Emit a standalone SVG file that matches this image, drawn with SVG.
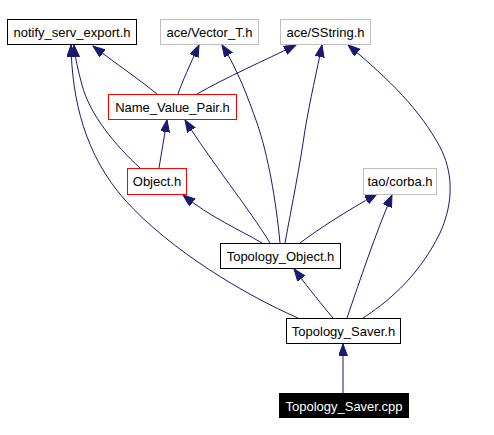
<svg xmlns="http://www.w3.org/2000/svg" width="494" height="435" viewBox="0 0 494 435">
<style>
.n rect{fill:#fff;stroke-width:1}
.b rect{stroke:#000}
.g rect{stroke:#bfbfbf}
.r rect{stroke:#ff0000}
.k rect{fill:#000;stroke:#000}
text{font-family:"Liberation Sans",Arial,sans-serif;font-size:13px;text-anchor:middle;fill:#000}
.k text{fill:#fff}
#edges path{fill:none;stroke:#191970;stroke-width:1;marker-end:url(#ah)}
</style>
<defs>
<marker id="ah" markerUnits="userSpaceOnUse" markerWidth="13" markerHeight="10" refX="12" refY="4.5" orient="auto">
<path d="M0,0 L12,4.5 L0,9 z" fill="#191970" stroke="#191970" stroke-width="1"/>
</marker>
</defs>
<rect width="494" height="435" fill="#fff"/>
<g id="edges">
<path d="M157,94 C140,80 115,63 93,46"/>
<path d="M178,94 C182,82 190,65 199,45"/>
<path d="M197,94 C225,78 265,60 296,45"/>
<path d="M140,168 C115,145 90,115 82,85 C78,70 75,58 74,45"/>
<path d="M159,168 L167,120"/>
<path d="M270,243 C250,210 210,160 185,120"/>
<path d="M280,243 C276,200 268,155 257,123 C248,98 238,70 222,45"/>
<path d="M285,243 C292,205 300,165 305,130 C310,100 317,70 322,45"/>
<path d="M262,243 C240,230 210,217 183,195"/>
<path d="M300,243 C320,228 345,212 377,194"/>
<path d="M298,318 C245,295 170,250 125,200 C85,155 72,100 71,45"/>
<path d="M333,318 C322,305 310,290 294,269"/>
<path d="M347,318 C360,280 375,235 392,195"/>
<path d="M363,318 C383,305 417,280 440,233 C455,200 452,170 440,147 C420,110 390,80 348,45"/>
<path d="M343,393 L343,344"/>
</g>
<g id="notify_serv_export" class="n b"><rect x="7.5" y="19.5" width="129" height="25"/><text x="72" y="37">notify_serv_export.h</text></g>
<g id="vector_t" class="n g"><rect x="160.5" y="19.5" width="98" height="25"/><text x="209.5" y="37">ace/Vector_T.h</text></g>
<g id="sstring" class="n g"><rect x="280.5" y="19.5" width="90" height="25"/><text x="325.5" y="37">ace/SString.h</text></g>
<g id="name_value_pair" class="n r"><rect x="108.5" y="94.5" width="128" height="25"/><text x="172.5" y="112">Name_Value_Pair.h</text></g>
<g id="object" class="n r"><rect x="127.5" y="168.5" width="59" height="26"/><text x="157" y="186">Object.h</text></g>
<g id="tao_corba" class="n g"><rect x="363.5" y="168.5" width="73" height="26"/><text x="400" y="186">tao/corba.h</text></g>
<g id="topology_object" class="n b"><rect x="220.5" y="243.5" width="120" height="25"/><text x="280.5" y="261">Topology_Object.h</text></g>
<g id="topology_saver_h" class="n b"><rect x="286.5" y="318.5" width="114" height="25"/><text x="343.5" y="336">Topology_Saver.h</text></g>
<g id="topology_saver_cpp" class="n k"><rect x="279.5" y="393.5" width="129" height="24"/><text x="344" y="411">Topology_Saver.cpp</text></g>
</svg>
